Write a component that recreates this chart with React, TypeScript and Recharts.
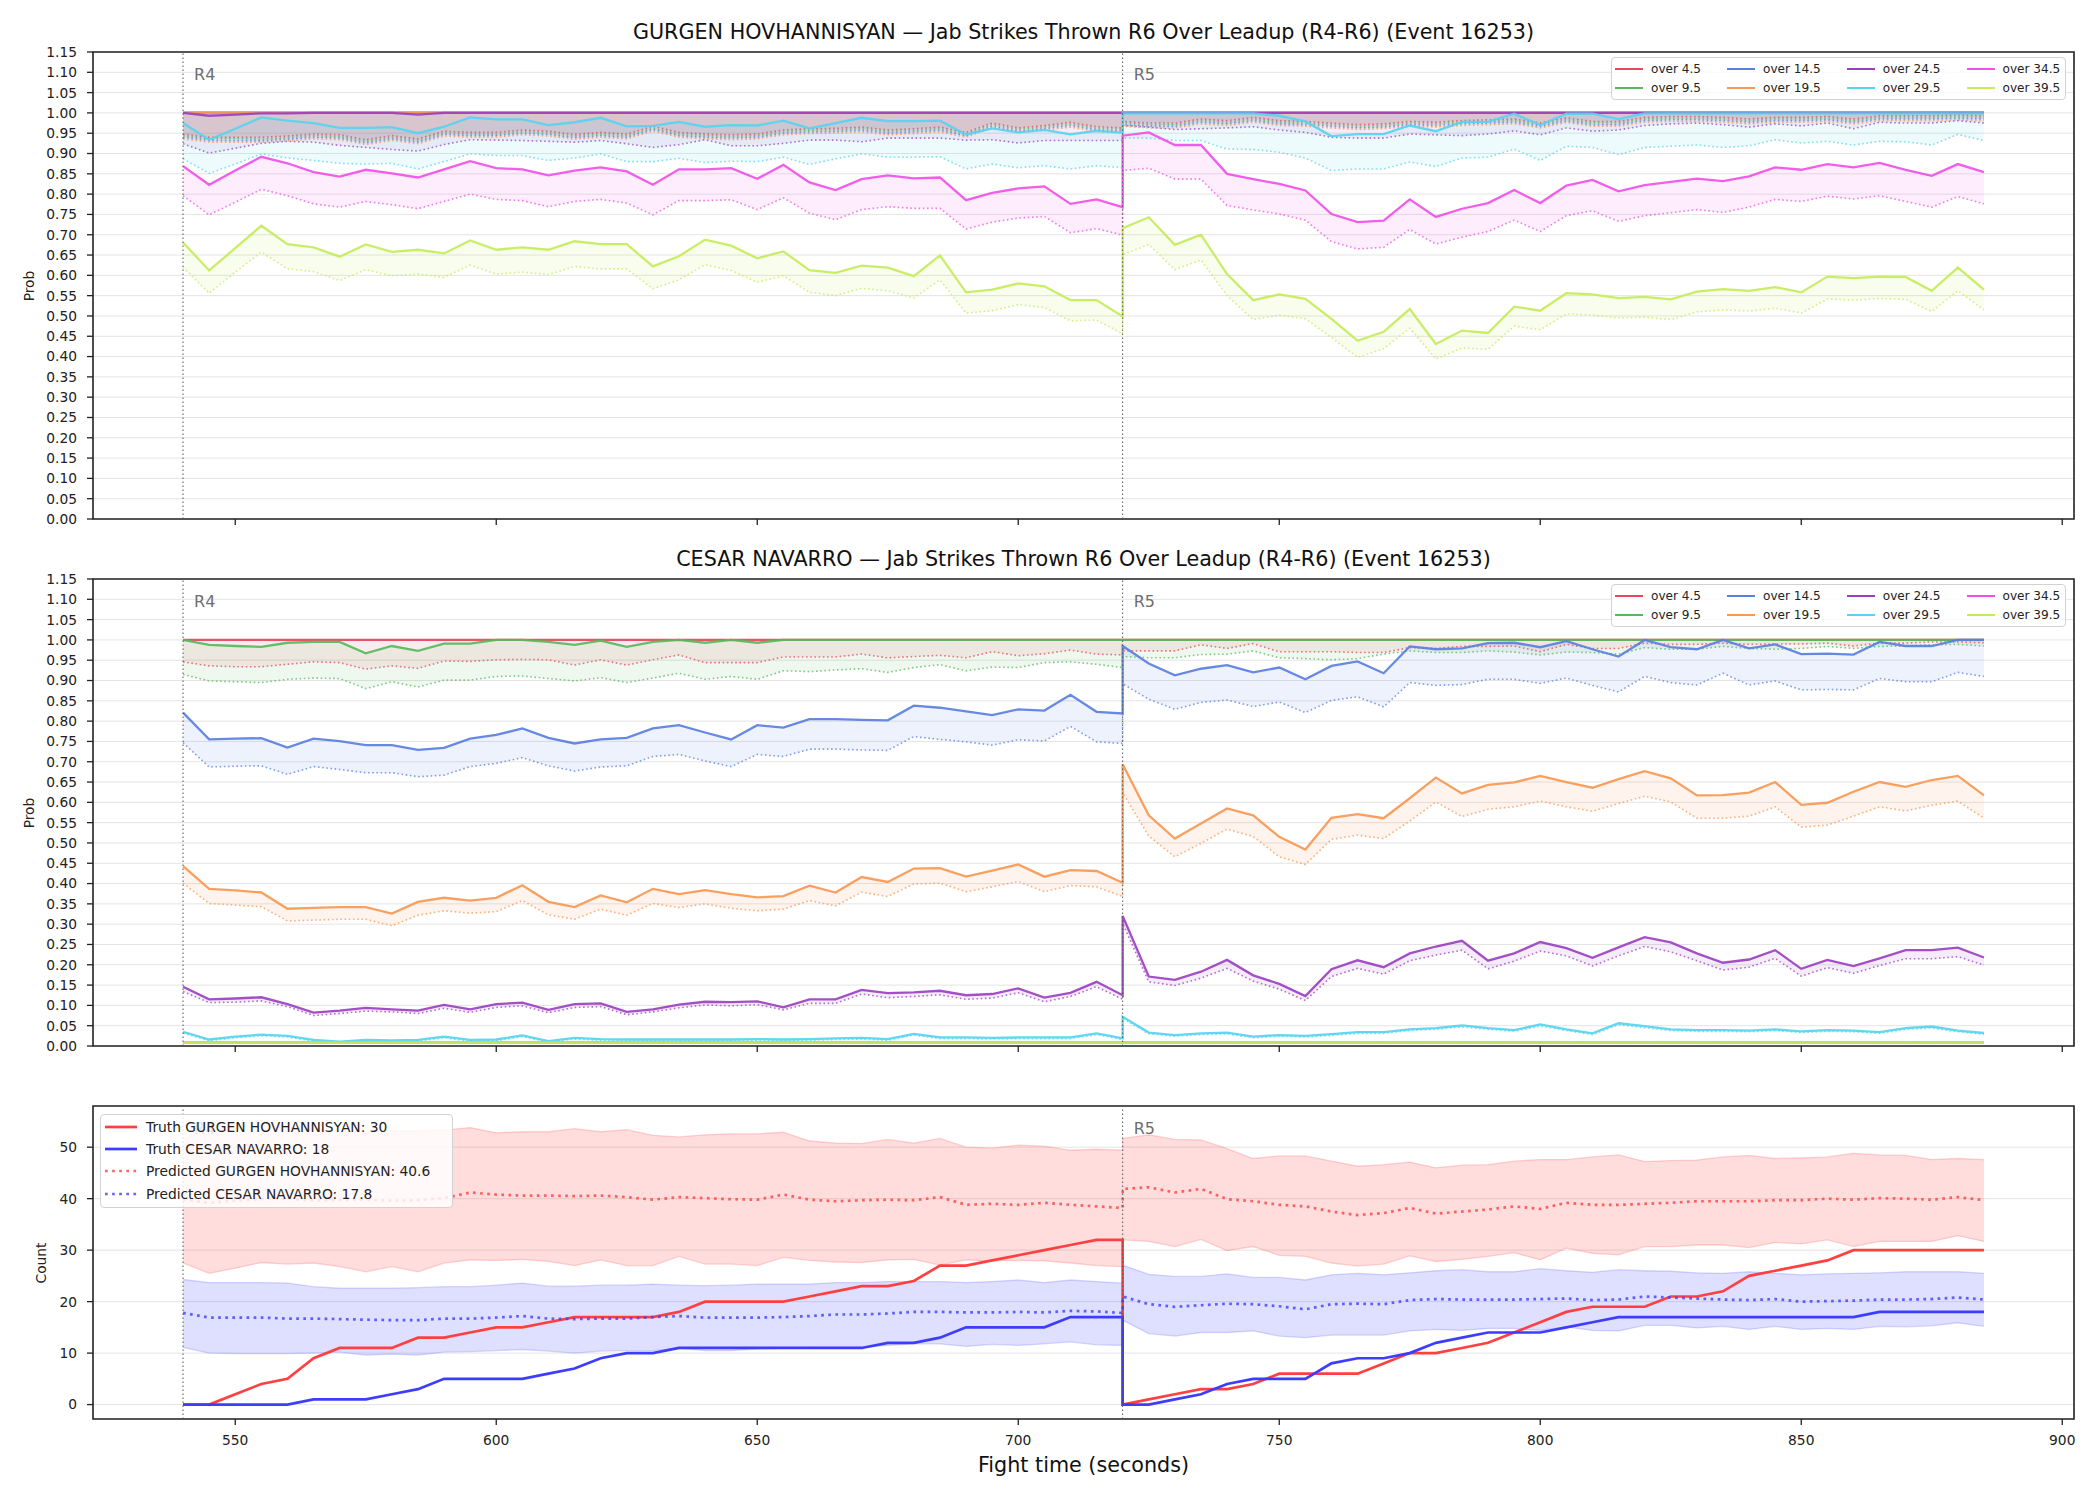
import {
  Area,
  CartesianGrid,
  ComposedChart,
  Line,
  ReferenceArea,
  ReferenceLine,
  XAxis,
  YAxis,
} from "recharts";

// fight time of every sample; 720 appears twice (end of R4, start of R5)
const TIMES = [
  540, 545, 550, 555, 560, 565, 570, 575, 580, 585, 590, 595, 600, 605, 610, 615, 620, 625, 630,
  635, 640, 645, 650, 655, 660, 665, 670, 675, 680, 685, 690, 695, 700, 705, 710, 715, 720,
  720, 725, 730, 735, 740, 745, 750, 755, 760, 765, 770, 775, 780, 785, 790, 795, 800, 805, 810,
  815, 820, 825, 830, 835, 840, 845, 850, 855, 860, 865, 870, 875, 880, 885,
];

// ---- GURGEN HOVHANNISYAN: solid line and dotted lower line per threshold
const gurgenOver45 = [
  1, 1, 1, 1, 1, 1, 1, 1, 1, 1, 1, 1, 1, 1, 1, 1, 1, 1, 1, 1, 1, 1, 1, 1, 1, 1, 1, 1, 1, 1, 1, 1, 1, 1, 1, 1, 1,
  1, 1, 1, 1, 1, 1, 1, 1, 1, 1, 1, 1, 1, 1, 1, 1, 1, 1, 1, 1, 1, 1, 1, 1, 1, 1, 1, 1, 1, 1, 1, 1, 1, 1,
];
const gurgenOver45Low = [
  0.948, 0.94, 0.94, 0.94, 0.943, 0.948, 0.946, 0.934, 0.944, 0.936, 0.955, 0.952, 0.952, 0.958, 0.955, 0.947, 0.952, 0.948, 0.967,
  0.952, 0.948, 0.946, 0.948, 0.958, 0.961, 0.962, 0.965, 0.958, 0.961, 0.965, 0.952, 0.975, 0.963, 0.969, 0.977, 0.966, 0.963,
  0.979, 0.975, 0.975, 0.985, 0.981, 0.989, 0.981, 0.979, 0.975, 0.971, 0.973, 0.979, 0.977, 0.981, 0.983, 0.985, 0.975,
  0.988, 0.979, 0.979, 0.989, 0.991, 0.991, 0.989, 0.985, 0.989, 0.989, 0.991, 0.985, 0.993, 0.993, 0.993, 0.995, 0.993,
];
const gurgenOver95 = gurgenOver45;
const gurgenOver95Low = [
  0.944, 0.936, 0.937, 0.935, 0.939, 0.944, 0.942, 0.93, 0.94, 0.932, 0.951, 0.948, 0.947, 0.954, 0.951, 0.943, 0.948, 0.944, 0.962,
  0.948, 0.944, 0.942, 0.944, 0.954, 0.957, 0.958, 0.961, 0.954, 0.957, 0.961, 0.948, 0.971, 0.959, 0.965, 0.973, 0.962, 0.959,
  0.975, 0.971, 0.971, 0.981, 0.977, 0.985, 0.977, 0.975, 0.971, 0.967, 0.969, 0.975, 0.973, 0.977, 0.979, 0.981, 0.971,
  0.984, 0.975, 0.975, 0.985, 0.987, 0.987, 0.985, 0.981, 0.985, 0.985, 0.987, 0.981, 0.989, 0.989, 0.989, 0.991, 0.989,
];
const gurgenOver145 = gurgenOver45;
const gurgenOver145Low = [
  0.94, 0.932, 0.932, 0.931, 0.935, 0.94, 0.938, 0.926, 0.936, 0.928, 0.947, 0.944, 0.944, 0.95, 0.947, 0.939, 0.944, 0.94, 0.959,
  0.944, 0.94, 0.938, 0.94, 0.95, 0.953, 0.954, 0.957, 0.95, 0.953, 0.957, 0.944, 0.967, 0.955, 0.961, 0.969, 0.958, 0.955,
  0.971, 0.967, 0.967, 0.977, 0.973, 0.981, 0.973, 0.971, 0.967, 0.963, 0.965, 0.971, 0.969, 0.973, 0.975, 0.977, 0.967,
  0.98, 0.971, 0.971, 0.981, 0.983, 0.983, 0.981, 0.977, 0.981, 0.981, 0.983, 0.977, 0.985, 0.985, 0.985, 0.987, 0.985,
];
const gurgenOver195 = gurgenOver45;
const gurgenOver195Low = [
  0.936, 0.928, 0.928, 0.928, 0.931, 0.936, 0.934, 0.922, 0.932, 0.924, 0.943, 0.94, 0.94, 0.946, 0.943, 0.935, 0.94, 0.936, 0.955,
  0.94, 0.936, 0.934, 0.936, 0.946, 0.949, 0.95, 0.953, 0.946, 0.949, 0.953, 0.94, 0.963, 0.951, 0.957, 0.965, 0.954, 0.951,
  0.967, 0.963, 0.963, 0.973, 0.969, 0.977, 0.969, 0.967, 0.963, 0.959, 0.961, 0.967, 0.965, 0.969, 0.971, 0.973, 0.963,
  0.976, 0.967, 0.967, 0.977, 0.979, 0.979, 0.977, 0.973, 0.977, 0.977, 0.979, 0.973, 0.981, 0.981, 0.981, 0.983, 0.981,
];
const gurgenOver245 = [
  1, 0.993, 0.996, 0.999, 0.999, 1, 1, 1, 1, 0.996, 1, 1, 1, 1, 1, 1, 1, 1, 1, 1, 1, 1, 1, 1, 1, 1, 1, 1, 1, 1, 1, 1, 1, 1, 1, 1, 1,
  1, 1, 1, 1, 1, 1, 1, 1, 1, 1, 1, 1, 1, 1, 1, 1, 1, 1, 1, 1, 1, 1, 1, 1, 1, 1, 1, 1, 1, 1, 1, 1, 1, 1,
];
const gurgenOver245Low = [
  0.924, 0.901, 0.913, 0.925, 0.93, 0.928, 0.92, 0.915, 0.91, 0.906, 0.922, 0.934, 0.933, 0.932, 0.93, 0.928, 0.932, 0.924, 0.915,
  0.922, 0.934, 0.919, 0.919, 0.925, 0.933, 0.933, 0.929, 0.938, 0.938, 0.938, 0.933, 0.934, 0.926, 0.932, 0.932, 0.932, 0.932,
  0.969, 0.965, 0.959, 0.961, 0.963, 0.966, 0.958, 0.952, 0.94, 0.938, 0.938, 0.948, 0.946, 0.944, 0.948, 0.956, 0.946,
  0.963, 0.955, 0.958, 0.969, 0.973, 0.975, 0.971, 0.965, 0.973, 0.968, 0.975, 0.961, 0.977, 0.975, 0.975, 0.981, 0.975,
];
const gurgenOver295 = [
  0.975, 0.934, 0.961, 0.989, 0.981, 0.975, 0.963, 0.963, 0.965, 0.95, 0.966, 0.989, 0.984, 0.984, 0.97, 0.977, 0.988, 0.967, 0.968,
  0.978, 0.966, 0.97, 0.969, 0.981, 0.962, 0.975, 0.988, 0.98, 0.98, 0.981, 0.947, 0.962, 0.952, 0.958, 0.947, 0.956, 0.951,
  0.999, 0.999, 0.999, 0.999, 0.999, 0.999, 0.993, 0.979, 0.943, 0.948, 0.948, 0.969, 0.955, 0.978, 0.978, 0.998, 0.97,
  0.998, 0.998, 0.985, 0.999, 0.999, 0.999, 0.999, 0.999, 0.999, 0.999, 0.999, 0.999, 0.999, 0.999, 0.999, 0.999, 0.999,
];
const gurgenOver295Low = [
  0.887, 0.851, 0.874, 0.899, 0.889, 0.883, 0.876, 0.874, 0.876, 0.862, 0.88, 0.899, 0.895, 0.895, 0.883, 0.889, 0.899, 0.88, 0.88,
  0.888, 0.878, 0.881, 0.88, 0.891, 0.873, 0.887, 0.899, 0.891, 0.891, 0.892, 0.862, 0.874, 0.865, 0.87, 0.862, 0.87, 0.865,
  0.938, 0.938, 0.932, 0.932, 0.911, 0.91, 0.903, 0.889, 0.858, 0.862, 0.862, 0.879, 0.868, 0.889, 0.891, 0.911, 0.883,
  0.918, 0.915, 0.897, 0.915, 0.918, 0.921, 0.915, 0.919, 0.934, 0.926, 0.93, 0.921, 0.93, 0.929, 0.921, 0.947, 0.932,
];
const gurgenOver345 = [
  0.869, 0.823, 0.858, 0.892, 0.876, 0.854, 0.843, 0.86, 0.851, 0.841, 0.861, 0.881, 0.864, 0.861, 0.846, 0.858, 0.866, 0.856, 0.823,
  0.861, 0.861, 0.864, 0.838, 0.872, 0.829, 0.81, 0.837, 0.846, 0.839, 0.841, 0.785, 0.803, 0.814, 0.819, 0.776, 0.787, 0.768,
  0.944, 0.952, 0.921, 0.921, 0.85, 0.837, 0.825, 0.809, 0.751, 0.731, 0.735, 0.787, 0.744, 0.764, 0.778, 0.81, 0.778,
  0.821, 0.835, 0.807, 0.822, 0.83, 0.838, 0.832, 0.844, 0.866, 0.86, 0.874, 0.866, 0.877, 0.86, 0.845, 0.874, 0.854,
];
const gurgenOver345Low = [
  0.796, 0.749, 0.78, 0.812, 0.796, 0.776, 0.768, 0.782, 0.774, 0.764, 0.782, 0.8, 0.787, 0.784, 0.769, 0.782, 0.787, 0.778, 0.749,
  0.784, 0.784, 0.786, 0.762, 0.791, 0.753, 0.737, 0.762, 0.769, 0.765, 0.765, 0.714, 0.731, 0.741, 0.745, 0.705, 0.715, 0.699,
  0.858, 0.864, 0.837, 0.837, 0.772, 0.761, 0.751, 0.736, 0.683, 0.665, 0.669, 0.713, 0.677, 0.694, 0.708, 0.736, 0.708,
  0.747, 0.759, 0.733, 0.747, 0.754, 0.762, 0.755, 0.768, 0.787, 0.782, 0.795, 0.788, 0.796, 0.782, 0.768, 0.794, 0.776,
];
const gurgenOver395 = [
  0.681, 0.612, 0.667, 0.722, 0.677, 0.669, 0.646, 0.676, 0.658, 0.663, 0.654, 0.686, 0.663, 0.669, 0.663, 0.684, 0.677, 0.677, 0.622,
  0.647, 0.688, 0.673, 0.642, 0.659, 0.613, 0.606, 0.624, 0.619, 0.598, 0.649, 0.558, 0.565, 0.58, 0.573, 0.539, 0.539, 0.499,
  0.716, 0.743, 0.675, 0.7, 0.603, 0.539, 0.553, 0.542, 0.493, 0.439, 0.461, 0.517, 0.431, 0.464, 0.458, 0.523, 0.513,
  0.556, 0.553, 0.544, 0.547, 0.541, 0.56, 0.566, 0.562, 0.571, 0.558, 0.597, 0.593, 0.597, 0.596, 0.562, 0.619, 0.565,
];
const gurgenOver395Low = [
  0.62, 0.556, 0.608, 0.657, 0.616, 0.609, 0.587, 0.614, 0.599, 0.603, 0.595, 0.625, 0.603, 0.608, 0.602, 0.622, 0.616, 0.616, 0.567,
  0.589, 0.626, 0.612, 0.583, 0.599, 0.558, 0.55, 0.568, 0.562, 0.544, 0.589, 0.507, 0.513, 0.528, 0.521, 0.488, 0.49, 0.456,
  0.651, 0.676, 0.614, 0.638, 0.55, 0.491, 0.502, 0.493, 0.447, 0.398, 0.419, 0.47, 0.394, 0.421, 0.418, 0.475, 0.466,
  0.505, 0.502, 0.495, 0.497, 0.491, 0.51, 0.515, 0.512, 0.519, 0.507, 0.542, 0.539, 0.543, 0.541, 0.511, 0.562, 0.515,
];

// ---- CESAR NAVARRO
const cesarOver45 = gurgenOver45;
const cesarOver45Low = [
  0.946, 0.936, 0.934, 0.934, 0.94, 0.946, 0.944, 0.928, 0.936, 0.93, 0.948, 0.947, 0.951, 0.952, 0.951, 0.938, 0.951, 0.938, 0.951,
  0.963, 0.944, 0.944, 0.944, 0.958, 0.958, 0.958, 0.965, 0.956, 0.959, 0.962, 0.956, 0.971, 0.961, 0.966, 0.975, 0.965, 0.963,
  0.973, 0.973, 0.973, 0.988, 0.979, 0.991, 0.971, 0.971, 0.971, 0.969, 0.969, 0.981, 0.979, 0.984, 0.984, 0.985, 0.971,
  0.989, 0.979, 0.979, 0.992, 0.989, 0.989, 0.992, 0.989, 0.99, 0.99, 0.992, 0.985, 0.992, 0.992, 0.995, 0.995, 0.993,
];
const cesarOver95 = [
  1, 0.988, 0.985, 0.983, 0.993, 0.995, 0.995, 0.967, 0.985, 0.973, 0.991, 0.991, 1, 1, 0.995, 0.988, 0.998, 0.983, 0.995,
  1, 0.993, 1, 0.993, 1, 1, 1, 1, 1, 1, 1, 1, 1, 1, 1, 1, 1, 1,
  1, 1, 1, 1, 1, 1, 1, 1, 1, 1, 1, 1, 1, 1, 1, 1, 1, 1, 1, 1, 1, 1, 1, 1, 1, 1, 1, 1, 1, 1, 1, 1, 1, 1,
];
const cesarOver95Low = [
  0.915, 0.899, 0.897, 0.895, 0.903, 0.906, 0.905, 0.88, 0.897, 0.884, 0.901, 0.901, 0.91, 0.911, 0.905, 0.899, 0.907, 0.895, 0.906,
  0.918, 0.903, 0.91, 0.903, 0.924, 0.922, 0.926, 0.929, 0.92, 0.932, 0.939, 0.924, 0.933, 0.932, 0.944, 0.946, 0.94, 0.932,
  0.959, 0.956, 0.956, 0.964, 0.965, 0.973, 0.956, 0.954, 0.951, 0.954, 0.965, 0.973, 0.969, 0.969, 0.973, 0.97, 0.963,
  0.97, 0.969, 0.965, 0.981, 0.977, 0.977, 0.984, 0.979, 0.977, 0.979, 0.984, 0.979, 0.984, 0.985, 0.988, 0.989, 0.985,
];
const cesarOver145 = [
  0.821, 0.755, 0.757, 0.758, 0.735, 0.757, 0.751, 0.741, 0.741, 0.729, 0.734, 0.757, 0.766, 0.782, 0.759, 0.745, 0.755, 0.759, 0.782,
  0.79, 0.772, 0.755, 0.79, 0.784, 0.805, 0.805, 0.803, 0.802, 0.838, 0.833, 0.824, 0.815, 0.829, 0.826, 0.865, 0.823, 0.819,
  0.985, 0.942, 0.913, 0.929, 0.938, 0.92, 0.932, 0.903, 0.936, 0.947, 0.918, 0.984, 0.977, 0.979, 0.992, 0.993, 0.982,
  0.997, 0.977, 0.959, 1, 0.982, 0.977, 1, 0.979, 0.989, 0.965, 0.966, 0.964, 0.995, 0.985, 0.985, 1, 1,
];
const cesarOver145Low = [
  0.747, 0.687, 0.689, 0.69, 0.669, 0.688, 0.681, 0.673, 0.673, 0.663, 0.667, 0.688, 0.696, 0.71, 0.69, 0.677, 0.687, 0.69, 0.713,
  0.718, 0.702, 0.688, 0.718, 0.713, 0.731, 0.731, 0.729, 0.728, 0.762, 0.755, 0.749, 0.741, 0.754, 0.751, 0.787, 0.749, 0.745,
  0.892, 0.854, 0.829, 0.846, 0.852, 0.836, 0.847, 0.821, 0.851, 0.86, 0.835, 0.895, 0.888, 0.89, 0.903, 0.903, 0.893,
  0.906, 0.888, 0.872, 0.91, 0.895, 0.889, 0.918, 0.889, 0.899, 0.877, 0.878, 0.877, 0.905, 0.897, 0.897, 0.92, 0.91,
];
const cesarOver195 = [
  0.443, 0.387, 0.383, 0.378, 0.338, 0.34, 0.342, 0.342, 0.326, 0.355, 0.365, 0.358, 0.365, 0.396, 0.355, 0.342, 0.371, 0.354, 0.387,
  0.374, 0.384, 0.374, 0.366, 0.369, 0.395, 0.378, 0.416, 0.404, 0.437, 0.438, 0.417, 0.432, 0.447, 0.417, 0.433, 0.431, 0.402,
  0.694, 0.568, 0.511, 0.548, 0.585, 0.568, 0.515, 0.484, 0.562, 0.571, 0.561, 0.61, 0.661, 0.622, 0.643, 0.649, 0.665,
  0.65, 0.636, 0.657, 0.677, 0.659, 0.617, 0.618, 0.624, 0.65, 0.594, 0.599, 0.626, 0.65, 0.638, 0.655, 0.665, 0.617,
];
const cesarOver195Low = [
  0.401, 0.351, 0.347, 0.343, 0.308, 0.31, 0.312, 0.312, 0.296, 0.322, 0.333, 0.327, 0.331, 0.358, 0.323, 0.312, 0.337, 0.322, 0.351,
  0.341, 0.35, 0.339, 0.333, 0.337, 0.358, 0.345, 0.379, 0.368, 0.399, 0.401, 0.38, 0.392, 0.405, 0.38, 0.395, 0.392, 0.368,
  0.624, 0.517, 0.466, 0.499, 0.534, 0.516, 0.466, 0.447, 0.509, 0.519, 0.511, 0.554, 0.601, 0.565, 0.583, 0.589, 0.603,
  0.589, 0.578, 0.597, 0.615, 0.601, 0.561, 0.561, 0.566, 0.589, 0.539, 0.544, 0.566, 0.589, 0.579, 0.593, 0.603, 0.561,
];
const cesarOver245 = [
  0.146, 0.115, 0.117, 0.12, 0.103, 0.082, 0.087, 0.094, 0.09, 0.087, 0.101, 0.09, 0.103, 0.107, 0.089, 0.103, 0.105, 0.084, 0.09,
  0.102, 0.109, 0.108, 0.11, 0.095, 0.115, 0.115, 0.138, 0.13, 0.132, 0.136, 0.125, 0.128, 0.142, 0.119, 0.131, 0.158, 0.125,
  0.32, 0.171, 0.163, 0.183, 0.212, 0.174, 0.153, 0.123, 0.189, 0.211, 0.194, 0.228, 0.245, 0.259, 0.21, 0.228, 0.256,
  0.241, 0.217, 0.243, 0.268, 0.255, 0.228, 0.205, 0.213, 0.236, 0.19, 0.212, 0.197, 0.216, 0.236, 0.236, 0.242, 0.218,
];
const cesarOver245Low = [
  0.134, 0.107, 0.108, 0.111, 0.097, 0.075, 0.08, 0.086, 0.084, 0.08, 0.093, 0.083, 0.095, 0.099, 0.082, 0.095, 0.097, 0.077, 0.084,
  0.094, 0.101, 0.099, 0.102, 0.089, 0.105, 0.105, 0.128, 0.119, 0.122, 0.126, 0.115, 0.118, 0.131, 0.109, 0.122, 0.146, 0.115,
  0.302, 0.158, 0.149, 0.167, 0.191, 0.16, 0.14, 0.112, 0.171, 0.191, 0.177, 0.21, 0.224, 0.236, 0.19, 0.209, 0.234,
  0.222, 0.197, 0.222, 0.245, 0.232, 0.21, 0.187, 0.194, 0.216, 0.172, 0.193, 0.179, 0.198, 0.215, 0.215, 0.22, 0.199,
];
const cesarOver295 = [
  0.035, 0.016, 0.023, 0.028, 0.025, 0.015, 0.011, 0.015, 0.014, 0.015, 0.023, 0.015, 0.016, 0.026, 0.012, 0.02, 0.017, 0.016, 0.016,
  0.016, 0.016, 0.016, 0.017, 0.016, 0.017, 0.019, 0.02, 0.017, 0.03, 0.021, 0.021, 0.02, 0.021, 0.021, 0.021, 0.031, 0.019,
  0.072, 0.033, 0.027, 0.031, 0.033, 0.023, 0.027, 0.025, 0.029, 0.034, 0.034, 0.041, 0.044, 0.051, 0.044, 0.039, 0.053,
  0.041, 0.031, 0.056, 0.049, 0.041, 0.039, 0.039, 0.038, 0.041, 0.036, 0.039, 0.038, 0.034, 0.044, 0.048, 0.038, 0.032,
];
const cesarOver295Low = [
  0.032, 0.013, 0.02, 0.025, 0.022, 0.012, 0.009, 0.012, 0.011, 0.012, 0.02, 0.012, 0.013, 0.023, 0.01, 0.017, 0.014, 0.013, 0.013,
  0.013, 0.013, 0.013, 0.014, 0.013, 0.014, 0.016, 0.017, 0.014, 0.027, 0.018, 0.018, 0.017, 0.018, 0.018, 0.018, 0.028, 0.016,
  0.068, 0.03, 0.024, 0.028, 0.03, 0.02, 0.024, 0.022, 0.026, 0.031, 0.031, 0.038, 0.041, 0.047, 0.041, 0.036, 0.049,
  0.038, 0.028, 0.052, 0.045, 0.038, 0.036, 0.036, 0.035, 0.038, 0.033, 0.036, 0.035, 0.031, 0.041, 0.044, 0.035, 0.029,
];
const cesarOver345 = [
  0.009, 0.009, 0.009, 0.009, 0.009, 0.009, 0.009, 0.009, 0.009, 0.009, 0.009, 0.009, 0.009, 0.009, 0.009, 0.009, 0.009, 0.009, 0.009,
  0.009, 0.009, 0.009, 0.009, 0.009, 0.009, 0.009, 0.009, 0.009, 0.009, 0.009, 0.009, 0.009, 0.009, 0.009, 0.009, 0.009, 0.009,
  0.009, 0.009, 0.009, 0.009, 0.009, 0.009, 0.009, 0.009, 0.009, 0.009, 0.009, 0.009, 0.009, 0.009, 0.009, 0.009, 0.009,
  0.009, 0.009, 0.009, 0.009, 0.009, 0.009, 0.009, 0.009, 0.009, 0.009, 0.009, 0.009, 0.009, 0.009, 0.009, 0.009, 0.009,
];
const cesarOver345Low = [
  0.007, 0.007, 0.007, 0.007, 0.007, 0.007, 0.007, 0.007, 0.007, 0.007, 0.007, 0.007, 0.007, 0.007, 0.007, 0.007, 0.007, 0.007, 0.007,
  0.007, 0.007, 0.007, 0.007, 0.007, 0.007, 0.007, 0.007, 0.007, 0.007, 0.007, 0.007, 0.007, 0.007, 0.007, 0.007, 0.007, 0.007,
  0.007, 0.007, 0.007, 0.007, 0.007, 0.007, 0.007, 0.007, 0.007, 0.007, 0.007, 0.007, 0.007, 0.007, 0.007, 0.007, 0.007,
  0.007, 0.007, 0.007, 0.007, 0.007, 0.007, 0.007, 0.007, 0.007, 0.007, 0.007, 0.007, 0.007, 0.007, 0.007, 0.007, 0.007,
];
const cesarOver395 = cesarOver345;
const cesarOver395Low = cesarOver345Low;

// ---- count panel: truth (solid), predicted mean (dotted), predicted band
const truthGurgen = [
  0, 0, 2, 4, 5, 9, 11, 11, 11, 13, 13, 14, 15, 15, 16, 17, 17, 17, 17, 18, 20, 20, 20, 20, 21, 22, 23, 23, 24, 27, 27, 28, 29, 30, 31, 32, 32,
  0, 1, 2, 3, 3, 4, 6, 6, 6, 6, 8, 10, 10, 11, 12, 14, 16, 18, 19, 19, 19, 21, 21, 22, 25, 26, 27, 28, 30, 30, 30, 30, 30, 30,
];
const truthCesar = [
  0, 0, 0, 0, 0, 1, 1, 1, 2, 3, 5, 5, 5, 5, 6, 7, 9, 10, 10, 11, 11, 11, 11, 11, 11, 11, 11, 12, 12, 13, 15, 15, 15, 15, 17, 17, 17,
  0, 0, 1, 2, 4, 5, 5, 5, 8, 9, 9, 10, 12, 13, 14, 14, 14, 15, 16, 17, 17, 17, 17, 17, 17, 17, 17, 17, 17, 18, 18, 18, 18, 18,
];
const predGurgen = [
  39.8, 39.2, 39.6, 39.9, 40.0, 39.6, 39.7, 39.8, 39.6, 39.7, 40.1, 41.2, 40.8, 40.6, 40.6, 40.5, 40.6, 40.3, 39.8,
  40.3, 40.1, 39.9, 39.8, 40.8, 39.8, 39.5, 39.7, 39.8, 39.7, 40.3, 38.8, 39.0, 38.8, 39.2, 38.8, 38.5, 38.2,
  41.9, 42.2, 41.2, 41.9, 39.9, 39.5, 38.8, 38.5, 37.5, 36.8, 37.2, 38.2, 37.1, 37.5, 37.9, 38.5, 38.0,
  39.2, 38.8, 38.8, 39.0, 39.2, 39.5, 39.5, 39.5, 39.7, 39.7, 40.0, 39.8, 40.1, 40.0, 39.8, 40.3, 39.7,
];
const predCesar = [
  17.8, 16.9, 16.9, 16.9, 16.7, 16.7, 16.6, 16.5, 16.4, 16.4, 16.7, 16.7, 16.9, 17.2, 16.7, 16.6, 16.7, 16.7, 17.0,
  17.2, 16.9, 16.9, 16.9, 17.0, 17.2, 17.5, 17.5, 17.7, 18.0, 18.0, 17.9, 17.9, 18.0, 17.9, 18.2, 18.1, 17.8,
  21.0, 19.5, 19.0, 19.3, 19.6, 19.5, 19.1, 18.5, 19.5, 19.6, 19.5, 20.3, 20.5, 20.4, 20.4, 20.4, 20.5,
  20.6, 20.3, 20.4, 21.0, 20.8, 20.6, 20.4, 20.3, 20.5, 20.0, 20.1, 20.2, 20.4, 20.4, 20.5, 20.8, 20.4,
];
const gurgenHigh = [
  51.5, 53.5, 54.5, 55.3, 54.0, 53.5, 53.0, 52.8, 53.2, 53.2, 53.3, 53.8, 52.8, 53.0, 53.0, 53.6, 53.0, 53.4, 52.3,
  52.0, 52.4, 52.6, 52.6, 52.9, 51.2, 50.8, 50.7, 51.5, 50.8, 51.7, 50.0, 49.8, 50.4, 50.2, 49.4, 49.6, 49.4,
  51.7, 52.4, 51.5, 51.4, 49.7, 47.8, 48.3, 48.3, 47.3, 46.3, 46.6, 47.1, 46.0, 46.5, 46.6, 47.3, 47.6,
  47.6, 48.1, 48.5, 47.2, 47.4, 47.5, 48.1, 48.4, 47.8, 47.9, 48.1, 48.8, 48.5, 48.4, 47.6, 47.8, 47.6,
];
const gurgenLow = [
  27.5, 25.5, 26.5, 27.6, 27.3, 27.5, 26.8, 25.8, 26.8, 25.8, 27.5, 28.1, 28.0, 28.2, 27.8, 27.0, 28.1, 27.0, 27.0,
  28.8, 27.3, 27.3, 27.0, 28.6, 28.0, 27.7, 27.6, 28.1, 28.2, 27.1, 28.1, 27.9, 28.0, 27.9, 27.5, 27.0, 26.8,
  32.0, 31.7, 30.7, 32.1, 29.9, 30.7, 29.0, 28.8, 27.5, 26.9, 27.3, 28.9, 27.8, 28.2, 28.8, 29.5, 28.1,
  30.4, 29.4, 29.1, 30.7, 30.7, 31.0, 31.0, 30.5, 31.5, 31.2, 32.0, 30.7, 31.7, 31.7, 31.7, 32.8, 31.7,
];
const cesarHigh = [
  24.3, 23.7, 23.7, 23.7, 23.6, 22.9, 22.6, 22.6, 22.6, 22.7, 22.9, 22.9, 23.2, 23.6, 23.0, 23.0, 23.2, 23.2, 23.4,
  23.2, 23.1, 23.2, 23.4, 23.4, 23.4, 23.7, 23.7, 23.9, 23.9, 23.9, 23.7, 23.9, 24.2, 23.7, 24.2, 23.9, 23.6,
  27.1, 25.3, 24.9, 24.9, 25.4, 24.7, 24.7, 24.2, 25.2, 25.5, 25.2, 25.6, 26.0, 26.2, 25.8, 25.8, 26.4,
  26.0, 25.7, 26.2, 26.0, 25.9, 25.6, 25.5, 25.8, 25.5, 25.2, 25.4, 25.5, 25.6, 25.8, 25.8, 25.8, 25.5,
];
const cesarLow = [
  11.1, 10.0, 9.9, 9.9, 9.9, 10.0, 10.2, 9.6, 9.8, 9.6, 10.2, 10.3, 10.5, 10.7, 10.4, 10.0, 10.4, 10.5, 10.5,
  10.9, 10.5, 10.5, 10.8, 10.9, 11.1, 11.1, 11.1, 11.5, 11.8, 11.8, 11.3, 11.7, 11.5, 11.8, 12.2, 11.6, 11.5,
  16.4, 13.8, 13.3, 14.0, 14.0, 14.3, 13.3, 13.0, 13.5, 13.5, 13.5, 14.3, 14.6, 14.4, 14.8, 14.8, 14.4,
  15.1, 14.4, 14.3, 15.4, 15.4, 14.9, 15.2, 14.6, 15.2, 14.6, 14.8, 14.6, 15.2, 15.1, 15.3, 15.9, 15.2,
];

const OVER_LABELS = ["over 4.5", "over 9.5", "over 14.5", "over 19.5", "over 24.5", "over 29.5", "over 34.5", "over 39.5"];
const OVER_COLORS = ["#e8475f", "#58b85c", "#5a7fe0", "#f99853", "#9b40c0", "#56d4f0", "#f050e8", "#c6eb5a"];

const X_TICKS = [550, 600, 650, 700, 750, 800, 850, 900];
const PROB_TICKS = [
  0, 0.05, 0.1, 0.15, 0.2, 0.25, 0.3, 0.35, 0.4, 0.45, 0.5, 0.55, 0.6, 0.65, 0.7, 0.75, 0.8, 0.85, 0.9, 0.95, 1, 1.05, 1.1, 1.15,
];
const COUNT_TICKS = [0, 10, 20, 30, 40, 50];
const ROUND_MARKS = [
  { t: 540, label: "R4" },
  { t: 720, label: "R5" },
];

// layout
const FIG_W = 2100;
const PANEL_H = 527;
const PLOT_TOP = 52;
const PLOT_LEFT = 93;
const PLOT_RIGHT = 2074;
const PLOT_H = 467;
const X_DOMAIN: [number, number] = [522.75, 902.25];
const PROB_DOMAIN: [number, number] = [0, 1.15];
const COUNT_DOMAIN: [number, number] = [-2.8, 58.0];
const INK = "#222";
const TICK_FONT = 13.8;

type OverSeries = { main: number[]; low: number[] };

const gurgenSeries: OverSeries[] = [
  { main: gurgenOver45, low: gurgenOver45Low },
  { main: gurgenOver95, low: gurgenOver95Low },
  { main: gurgenOver145, low: gurgenOver145Low },
  { main: gurgenOver195, low: gurgenOver195Low },
  { main: gurgenOver245, low: gurgenOver245Low },
  { main: gurgenOver295, low: gurgenOver295Low },
  { main: gurgenOver345, low: gurgenOver345Low },
  { main: gurgenOver395, low: gurgenOver395Low },
];
const cesarSeries: OverSeries[] = [
  { main: cesarOver45, low: cesarOver45Low },
  { main: cesarOver95, low: cesarOver95Low },
  { main: cesarOver145, low: cesarOver145Low },
  { main: cesarOver195, low: cesarOver195Low },
  { main: cesarOver245, low: cesarOver245Low },
  { main: cesarOver295, low: cesarOver295Low },
  { main: cesarOver345, low: cesarOver345Low },
  { main: cesarOver395, low: cesarOver395Low },
];

function buildProbRows(series: OverSeries[]) {
  return TIMES.map((t, i) => {
    const row: Record<string, number | number[]> = { t };
    series.forEach((s, k) => {
      row[`m${k}`] = s.main[i];
      row[`l${k}`] = s.low[i];
      row[`b${k}`] = [s.low[i], s.main[i]];
    });
    return row;
  });
}

const countRows = TIMES.map((t, i) => ({
  t,
  truthG: truthGurgen[i],
  truthC: truthCesar[i],
  predG: predGurgen[i],
  predC: predCesar[i],
  bandG: [gurgenLow[i], gurgenHigh[i]],
  bandC: [cesarLow[i], cesarHigh[i]],
}));

const emptyTick = () => <g />;

function roundLines() {
  return ROUND_MARKS.map((r) => (
    <ReferenceLine
      key={r.label}
      x={r.t}
      stroke="#555"
      strokeWidth={1}
      strokeDasharray="1.5 2.5"
      label={{
        content: (p: any) => {
          const vb = p && p.viewBox;
          if (!vb) return null;
          return (
            <text x={vb.x + 11} y={vb.y + 28} fill="#6e6e6e" fontSize={16}>
              {r.label}
            </text>
          );
        },
      }}
    />
  ));
}

function OverLegend() {
  return (
    <div
      style={{
        position: "absolute",
        left: 1611,
        top: 57,
        width: 455,
        height: 43,
        boxSizing: "border-box",
        border: "1.5px solid #d2d2d2",
        borderRadius: 4,
        background: "rgba(255,255,255,0.8)",
        display: "flex",
        gap: 26,
        padding: "1.5px 0 0 3px",
        fontSize: 12.1,
        color: INK,
      }}
    >
      {[0, 2, 4, 6].map((c) => (
        <div key={c} style={{ display: "flex", flexDirection: "column" }}>
          {[c, c + 1].map((k) => (
            <div key={k} style={{ display: "flex", alignItems: "center", height: 19, whiteSpace: "nowrap" }}>
              <span style={{ width: 28, height: 2.2, background: OVER_COLORS[k], marginRight: 8 }} />
              <span>{OVER_LABELS[k]}</span>
            </div>
          ))}
        </div>
      ))}
    </div>
  );
}

function Title({ text }: { text: string }) {
  return (
    <div
      style={{
        position: "absolute",
        left: PLOT_LEFT,
        width: PLOT_RIGHT - PLOT_LEFT,
        top: 20,
        lineHeight: "25px",
        textAlign: "center",
        fontSize: 20.7,
        color: "#111",
        whiteSpace: "nowrap",
      }}
    >
      {text}
    </div>
  );
}

function YLabel({ text, x, centerY }: { text: string; x: number; centerY: number }) {
  return (
    <div
      style={{
        position: "absolute",
        left: x,
        top: centerY,
        transform: "translate(-50%, -50%) rotate(-90deg)",
        fontSize: TICK_FONT,
        color: INK,
        whiteSpace: "nowrap",
      }}
    >
      {text}
    </div>
  );
}

function ProbPanel({ top, player, series }: { top: number; player: string; series: OverSeries[] }) {
  const rows = buildProbRows(series);
  return (
    <div style={{ position: "absolute", left: 0, top, width: FIG_W, height: PANEL_H }}>
      <ComposedChart
        width={FIG_W}
        height={PANEL_H}
        data={rows}
        margin={{ top: PLOT_TOP, right: FIG_W - PLOT_RIGHT, bottom: 0, left: 0 }}
      >
        <CartesianGrid vertical={false} stroke="#e4e4e4" strokeWidth={1} />
        <XAxis
          type="number"
          dataKey="t"
          domain={X_DOMAIN}
          ticks={X_TICKS}
          allowDataOverflow
          height={PANEL_H - PLOT_TOP - PLOT_H}
          axisLine={false}
          tickLine={{ stroke: INK, strokeWidth: 1.3 }}
          tick={emptyTick}
          interval={0}
        />
        <YAxis
          type="number"
          domain={PROB_DOMAIN}
          ticks={PROB_TICKS}
          allowDataOverflow
          width={PLOT_LEFT}
          interval={0}
          axisLine={false}
          tickLine={{ stroke: INK, strokeWidth: 1.3 }}
          tickMargin={10}
          tick={{ fontSize: TICK_FONT, fill: INK }}
          tickFormatter={(v: number) => v.toFixed(2)}
        />
        {series.map((_, k) => (
          <Area
            key={`b${k}`}
            dataKey={`b${k}`}
            type="linear"
            stroke="none"
            fill={OVER_COLORS[k]}
            fillOpacity={0.1}
            dot={false}
            activeDot={false}
            isAnimationActive={false}
          />
        ))}
        {series.map((_, k) => [
          <Line
            key={`m${k}`}
            dataKey={`m${k}`}
            type="linear"
            stroke={OVER_COLORS[k]}
            strokeWidth={2.3}
            strokeOpacity={0.92}
            dot={false}
            activeDot={false}
            isAnimationActive={false}
          />,
          <Line
            key={`l${k}`}
            dataKey={`l${k}`}
            type="linear"
            stroke={OVER_COLORS[k]}
            strokeWidth={1.6}
            strokeOpacity={0.75}
            strokeDasharray="1.6 2.6"
            dot={false}
            activeDot={false}
            isAnimationActive={false}
          />,
        ])}
        {roundLines()}
        <ReferenceArea
          x1={X_DOMAIN[0]}
          x2={X_DOMAIN[1]}
          y1={PROB_DOMAIN[0]}
          y2={PROB_DOMAIN[1]}
          fill="none"
          stroke={INK}
          strokeWidth={1.6}
        />
      </ComposedChart>
      <Title text={`${player} — Jab Strikes Thrown R6 Over Leadup (R4-R6) (Event 16253)`} />
      <YLabel text="Prob" x={29} centerY={PLOT_TOP + PLOT_H / 2} />
      <OverLegend />
    </div>
  );
}

const COUNT_LEGEND = [
  { label: "Truth GURGEN HOVHANNISYAN: 30", color: "#ff4040", dotted: false },
  { label: "Truth CESAR NAVARRO: 18", color: "#3d3dff", dotted: false },
  { label: "Predicted GURGEN HOVHANNISYAN: 40.6", color: "#ff4040", dotted: true },
  { label: "Predicted CESAR NAVARRO: 17.8", color: "#3d3dff", dotted: true },
];

function CountLegend() {
  return (
    <div
      style={{
        position: "absolute",
        left: 100,
        top: 60,
        width: 353,
        height: 94,
        boxSizing: "border-box",
        border: "1.5px solid #d2d2d2",
        borderRadius: 4,
        background: "rgba(255,255,255,0.82)",
        padding: "0.5px 0 0 4px",
        fontSize: TICK_FONT,
        color: INK,
      }}
    >
      {COUNT_LEGEND.map((e) => (
        <div key={e.label} style={{ display: "flex", alignItems: "center", height: 22.4, whiteSpace: "nowrap" }}>
          <svg width={32} height={8} style={{ marginRight: 9 }}>
            <line
              x1={0}
              y1={4}
              x2={32}
              y2={4}
              stroke={e.color}
              strokeOpacity={e.dotted ? 0.8 : 1}
              strokeWidth={2.7}
              strokeDasharray={e.dotted ? "2.7 4.4" : undefined}
            />
          </svg>
          <span>{e.label}</span>
        </div>
      ))}
    </div>
  );
}

function CountPanel({ top }: { top: number }) {
  const height = 446;
  const plotH = 313;
  return (
    <div style={{ position: "absolute", left: 0, top, width: FIG_W, height }}>
      <ComposedChart
        width={FIG_W}
        height={height}
        data={countRows}
        margin={{ top: PLOT_TOP, right: FIG_W - PLOT_RIGHT, bottom: 0, left: 0 }}
      >
        <CartesianGrid vertical={false} stroke="#e4e4e4" strokeWidth={1} />
        <XAxis
          type="number"
          dataKey="t"
          domain={X_DOMAIN}
          ticks={X_TICKS}
          allowDataOverflow
          height={height - PLOT_TOP - plotH}
          axisLine={false}
          tickLine={{ stroke: INK, strokeWidth: 1.3 }}
          tickMargin={10}
          tick={{ fontSize: TICK_FONT, fill: INK }}
          interval={0}
        />
        <YAxis
          type="number"
          domain={COUNT_DOMAIN}
          ticks={COUNT_TICKS}
          allowDataOverflow
          width={PLOT_LEFT}
          interval={0}
          axisLine={false}
          tickLine={{ stroke: INK, strokeWidth: 1.3 }}
          tickMargin={10}
          tick={{ fontSize: TICK_FONT, fill: INK }}
        />
        <Area
          dataKey="bandG"
          type="linear"
          stroke="#ff4040"
          strokeOpacity={0.22}
          strokeWidth={1.3}
          fill="#ff4444"
          fillOpacity={0.18}
          dot={false}
          activeDot={false}
          isAnimationActive={false}
        />
        <Area
          dataKey="bandC"
          type="linear"
          stroke="#4040ff"
          strokeOpacity={0.2}
          strokeWidth={1.3}
          fill="#4444ff"
          fillOpacity={0.17}
          dot={false}
          activeDot={false}
          isAnimationActive={false}
        />
        <Line dataKey="truthG" type="linear" stroke="#ff4040" strokeWidth={2.7} dot={false} activeDot={false} isAnimationActive={false} />
        <Line dataKey="truthC" type="linear" stroke="#3d3dff" strokeWidth={2.7} dot={false} activeDot={false} isAnimationActive={false} />
        <Line
          dataKey="predG"
          type="linear"
          stroke="#ff4040"
          strokeOpacity={0.8}
          strokeWidth={2.7}
          strokeDasharray="2.7 4.4"
          dot={false}
          activeDot={false}
          isAnimationActive={false}
        />
        <Line
          dataKey="predC"
          type="linear"
          stroke="#3d3dff"
          strokeOpacity={0.8}
          strokeWidth={2.7}
          strokeDasharray="2.7 4.4"
          dot={false}
          activeDot={false}
          isAnimationActive={false}
        />
        {roundLines()}
        <ReferenceArea
          x1={X_DOMAIN[0]}
          x2={X_DOMAIN[1]}
          y1={COUNT_DOMAIN[0]}
          y2={COUNT_DOMAIN[1]}
          fill="none"
          stroke={INK}
          strokeWidth={1.6}
        />
      </ComposedChart>
      <YLabel text="Count" x={41} centerY={PLOT_TOP + plotH / 2} />
      <CountLegend />
      <div
        style={{
          position: "absolute",
          left: PLOT_LEFT,
          width: PLOT_RIGHT - PLOT_LEFT,
          top: 1465 - top - 12.5,
          lineHeight: "25px",
          textAlign: "center",
          fontSize: 20.7,
          color: "#111",
        }}
      >
        Fight time (seconds)
      </div>
    </div>
  );
}

export default function App() {
  return (
    <div
      style={{
        position: "absolute",
        left: 0,
        top: 0,
        width: FIG_W,
        height: 1500,
        background: "#fff",
        fontFamily: "'DejaVu Sans', sans-serif",
        overflow: "hidden",
      }}
    >
      <ProbPanel top={0} player="GURGEN HOVHANNISYAN" series={gurgenSeries} />
      <ProbPanel top={PANEL_H} player="CESAR NAVARRO" series={cesarSeries} />
      <CountPanel top={PANEL_H * 2} />
    </div>
  );
}
